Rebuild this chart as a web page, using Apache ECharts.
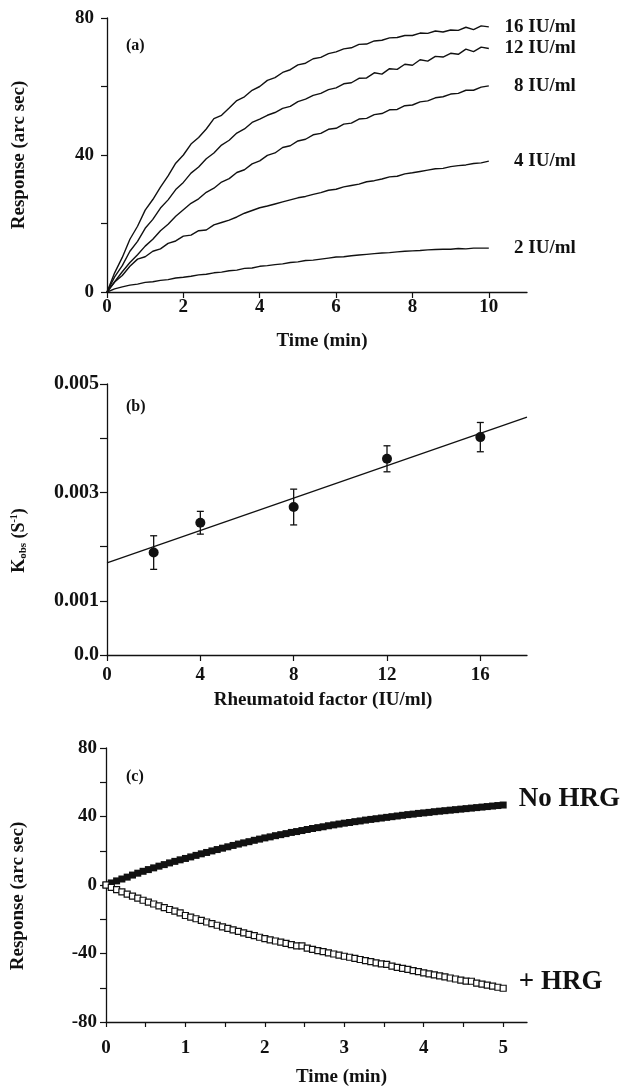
<!DOCTYPE html>
<html><head><meta charset="utf-8">
<script src="https://cdn.jsdelivr.net/npm/echarts@6/dist/echarts.min.js"></script>
<style>html,body{margin:0;padding:0;background:#fff}#c{width:626px;height:1086px}</style>
</head><body><div id="c"></div><script>
// ---------- Panel (a) data ----------
const TIME_A = [0,0.2,0.4,0.6,0.8,1,1.2,1.4,1.6,1.8,2,2.2,2.4,2.6,2.8,3,3.2,3.4,3.6,3.8,4,4.2,4.4,4.6,4.8,5,5.2,5.4,5.6,5.8,6,6.2,6.4,6.6,6.8,7,7.2,7.4,7.6,7.8,8,8.2,8.4,8.6,8.8,9,9.2,9.4,9.6,9.8,10];
const RESP_16 = [0,5.6,10.1,15.4,19.2,23.9,27.0,30.6,33.9,37.6,40.0,43.2,45.1,47.6,50.6,51.6,53.7,55.9,57.0,58.9,60.0,61.8,62.6,64.1,64.9,66.3,66.8,68.1,68.5,69.6,70.1,71.0,71.3,72.3,72.4,73.3,73.5,74.2,74.3,74.9,74.9,75.6,75.5,76.2,75.9,76.5,76.4,77.3,76.6,77.7,77.4];
const RESP_12 = [0,4.4,7.7,11.9,14.8,18.6,21.2,24.5,26.9,29.9,32.0,34.7,36.5,38.9,40.6,42.9,44.3,46.4,47.6,49.5,50.5,51.6,52.4,53.6,54.2,55.6,56.3,57.4,58.0,59.1,59.6,60.8,61.1,62.4,62.5,64.0,63.6,65.2,65.0,66.5,66.2,67.8,67.4,68.8,68.6,69.7,69.4,70.9,70.2,71.5,71.1];
const RESP_8 = [0,3.0,5.9,8.6,10.9,13.4,15.4,17.9,19.8,22.1,24.0,25.9,27.2,29.1,30.3,32.1,33.1,34.9,35.7,37.4,38.3,39.9,40.6,42.2,42.7,44.1,44.6,45.9,46.3,47.5,47.8,49.0,49.3,50.5,50.7,51.8,52.1,53.2,53.3,54.4,54.6,55.5,55.8,56.7,57.0,57.8,58.0,58.9,58.9,59.8,60.2];
const RESP_4 = [0,2.9,4.8,7.5,9.6,10.3,11.9,12.6,14.2,14.9,16.3,16.6,17.9,18.1,19.6,20.3,21.0,21.9,23.0,23.8,24.6,25.1,25.7,26.3,26.9,27.5,27.9,28.5,29.0,29.7,30.0,30.7,31.1,31.5,32.2,32.5,33.0,33.6,33.8,34.5,34.8,35.2,35.6,36.0,36.1,36.6,36.9,37.1,37.5,37.7,38.2];
const RESP_2 = [0,0.9,1.5,2.0,2.3,2.8,3.0,3.4,3.6,4.1,4.3,4.6,5.0,5.2,5.6,5.8,6.2,6.4,6.9,7.0,7.5,7.7,8.0,8.2,8.6,8.8,9.2,9.3,9.6,9.9,10.2,10.3,10.6,10.8,11.0,11.2,11.4,11.5,11.7,11.9,12.0,12.1,12.3,12.4,12.5,12.5,12.7,12.6,12.8,12.8,12.8];
const CURVE_NAMES = ['16 IU/ml','12 IU/ml','8 IU/ml','4 IU/ml','2 IU/ml'];
const A_X_TICKS = [0,2,4,6,8,10];
const A_Y_LABELS = [0,40,80];

// ---------- Panel (b) data ----------
const RF = [2,4,8,12,16];
const KOBS = [0.00189,0.00244,0.00273,0.00362,0.00402];
const KERR = [0.00031,0.00021,0.00033,0.00024,0.00027];
const FIT_X = [0,18];
const FIT_Y = [0.0017,0.00439];
const B_X_TICKS = [0,4,8,12,16];
const B_Y_LABELS = [0,0.001,0.003,0.005];

// ---------- Panel (c) data ----------
const TIME_C_SEC = [0,4,8,12,16,20,24,28,32,36,40,44,48,52,56,60,64,68,72,76,80,84,88,92,96,100,104,108,112,116,120,124,128,132,136,140,144,148,152,156,160,164,168,172,176,180,184,188,192,196,200,204,208,212,216,220,224,228,232,236,240,244,248,252,256,260,264,268,272,276,280,284,288,292,296,300];
const NO_HRG = [0,1.2,2.4,3.5,4.6,5.8,6.9,8.0,9.0,10.0,11.0,11.9,12.9,13.8,14.7,15.5,16.4,17.3,18.2,19.0,19.9,20.7,21.5,22.3,23.1,23.9,24.6,25.3,26.1,26.8,27.5,28.1,28.8,29.4,30.0,30.7,31.2,31.8,32.4,33.0,33.5,34.0,34.6,35.1,35.6,36.1,36.5,37.0,37.4,37.9,38.3,38.7,39.1,39.5,39.9,40.3,40.7,41.1,41.4,41.8,42.1,42.4,42.8,43.1,43.4,43.7,44.0,44.3,44.6,44.9,45.2,45.5,45.8,46.1,46.4,46.7];
const PLUS_HRG = [0,-1.4,-2.7,-4.0,-5.3,-6.5,-7.7,-8.9,-10.0,-11.1,-12.2,-13.2,-14.3,-15.3,-16.3,-17.8,-18.8,-19.7,-20.7,-21.6,-22.5,-23.5,-24.4,-25.3,-26.2,-27.1,-27.9,-28.8,-29.6,-30.5,-31.3,-32.0,-32.7,-33.4,-34.1,-34.8,-35.5,-35.6,-36.9,-37.6,-38.3,-38.9,-39.6,-40.3,-40.9,-41.6,-42.2,-42.9,-43.5,-44.2,-44.8,-45.5,-46.1,-46.3,-47.4,-48.1,-48.7,-49.3,-50.0,-50.6,-51.3,-51.9,-52.5,-53.1,-53.7,-54.3,-54.9,-55.5,-56.1,-56.2,-57.3,-57.9,-58.5,-59.1,-59.7,-60.3];
const C_X_TICKS = [0,0.5,1,1.5,2,2.5,3,3.5,4,4.5,5];
const C_X_LABELS = [0,1,2,3,4,5];
const C_Y_LABELS = [-80,-40,0,40,80];

// ---------- styling ----------
const FONT = "'Liberation Serif','Times New Roman',serif";
const INK = '#111';
const tickFont = {fontFamily: FONT, fontWeight: 'bold', fontSize: 19, color: INK};
const titleFont = {fontFamily: FONT, fontWeight: 'bold', fontSize: 19, color: INK};
const axLine = {show: true, onZero: false, lineStyle: {color: INK, width: 1.3}};
const tickStyle = {lineStyle: {color: INK, width: 1.2}};

const chart = echarts.init(document.getElementById('c'), null, {renderer: 'canvas'});

const curves = [RESP_16, RESP_12, RESP_8, RESP_4, RESP_2];
const series = [];
curves.forEach((arr, k) => {
  series.push({
    type: 'line', xAxisIndex: 0, yAxisIndex: 0, name: CURVE_NAMES[k],
    data: TIME_A.map((t, i) => [t, arr[i]]),
    symbol: 'none', showSymbol: false, smooth: false,
    lineStyle: {color: INK, width: 1.4},
    endLabel: {show: true, formatter: CURVE_NAMES[k], distance: 87, align: 'right', ...tickFont}
  });
});

// Panel (b)
series.push({
  type: 'line', xAxisIndex: 1, yAxisIndex: 1,
  data: FIT_X.map((x, i) => [x, FIT_Y[i]]),
  symbol: 'none', lineStyle: {color: INK, width: 1.3}
});
series.push({
  type: 'custom', xAxisIndex: 1, yAxisIndex: 1,
  data: RF.map((x, i) => [x, KOBS[i], KERR[i]]),
  encode: {x: 0, y: 1},
  renderItem: (params, api) => {
    const x = api.value(0), y = api.value(1), e = api.value(2);
    const top = api.coord([x, y + e]), bot = api.coord([x, y - e]);
    const w = 3.5;
    const st = {stroke: INK, lineWidth: 1.3};
    return {type: 'group', children: [
      {type: 'line', shape: {x1: top[0], y1: top[1], x2: bot[0], y2: bot[1]}, style: st},
      {type: 'line', shape: {x1: top[0] - w, y1: top[1], x2: top[0] + w, y2: top[1]}, style: st},
      {type: 'line', shape: {x1: bot[0] - w, y1: bot[1], x2: bot[0] + w, y2: bot[1]}, style: st}
    ]};
  },
  z: 3
});
series.push({
  type: 'scatter', xAxisIndex: 1, yAxisIndex: 1,
  data: RF.map((x, i) => [x, KOBS[i]]),
  symbol: 'circle', symbolSize: 10, itemStyle: {color: INK, opacity: 1}, z: 4
});

// Panel (c)
const hrgLabel = (txt) => ({show: true, position: 'right', distance: 12, formatter: txt,
  fontFamily: FONT, fontWeight: 'bold', fontSize: 27, color: INK, opacity: 1, offset: [0, -6]});
const noData = TIME_C_SEC.map((s, i) => [s / 60, NO_HRG[i]]);
noData[noData.length - 1] = {value: noData[noData.length - 1], label: hrgLabel('No HRG')};
const plusData = TIME_C_SEC.map((s, i) => [s / 60, PLUS_HRG[i]]);
plusData[plusData.length - 1] = {value: plusData[plusData.length - 1], label: hrgLabel('+ HRG')};
series.push({
  type: 'scatter', xAxisIndex: 2, yAxisIndex: 2, data: noData,
  symbol: 'rect', symbolSize: 7, itemStyle: {color: INK, opacity: 1}, z: 3
});
series.push({
  type: 'scatter', xAxisIndex: 2, yAxisIndex: 2, data: plusData,
  symbol: 'rect', symbolSize: 6, itemStyle: {color: '#fff', borderColor: INK, borderWidth: 1.2, opacity: 1}, z: 4
});

const option = {
  animation: false,
  backgroundColor: '#fff',
  grid: [
    {left: 107, top: 18, width: 420, height: 274, outerBoundsMode: 'none'},
    {left: 107, top: 384, width: 420, height: 271, outerBoundsMode: 'none'},
    {left: 106, top: 748, width: 421, height: 274, outerBoundsMode: 'none'}
  ],
  xAxis: [
    {gridIndex: 0, type: 'value', min: 0, max: 11, axisLine: axLine, splitLine: {show: false},
     axisTick: {customValues: A_X_TICKS, length: 6, ...tickStyle},
     axisLabel: {customValues: A_X_TICKS, margin: 6, ...tickFont},
     name: 'Time (min)', nameLocation: 'middle', nameGap: 40, nameTextStyle: {...titleFont, padding: [0, 0, 0, 10]}},
    {gridIndex: 1, type: 'value', min: 0, max: 18, axisLine: axLine, splitLine: {show: false},
     axisTick: {customValues: B_X_TICKS, length: 6, ...tickStyle},
     axisLabel: {customValues: B_X_TICKS, margin: 11, ...tickFont},
     name: 'Rheumatoid factor (IU/ml)', nameLocation: 'middle', nameGap: 36, nameTextStyle: {...titleFont, padding: [0, 0, 0, 12]}},
    {gridIndex: 2, type: 'value', min: 0, max: 5.3, axisLine: axLine, splitLine: {show: false},
     axisTick: {customValues: C_X_TICKS, length: 5, ...tickStyle},
     axisLabel: {customValues: C_X_LABELS, margin: 17, ...tickFont},
     name: 'Time (min)', nameLocation: 'middle', nameGap: 46, nameTextStyle: {...titleFont, padding: [0, 0, 0, 50]}}
  ],
  yAxis: [
    {gridIndex: 0, type: 'value', min: 0, max: 80, interval: 20, axisLine: axLine, splitLine: {show: false},
     axisTick: {show: true, length: 6, ...tickStyle},
     axisLabel: {customValues: A_Y_LABELS, margin: 13, ...tickFont},
     name: 'Response (arc sec)', nameLocation: 'middle', nameRotate: 90, nameGap: 78, nameTextStyle: {...titleFont}},
    {gridIndex: 1, type: 'value', min: 0, max: 0.005, interval: 0.001, axisLine: axLine, splitLine: {show: false},
     axisTick: {show: true, length: 7, ...tickStyle},
     axisLabel: {customValues: B_Y_LABELS, margin: 8, ...tickFont, fontSize: 20,
       formatter: v => (Math.abs(v) < 1e-9 ? '0.0' : v.toFixed(3))},
     name: '{k|K}{s|obs}{k| (S}{p|-1}{k|)}', nameLocation: 'middle', nameRotate: 90, nameGap: 78,
     nameTextStyle: {...titleFont, padding: [0, 42, 0, 0], rich: {
       k: {fontFamily: FONT, fontWeight: 'bold', fontSize: 18, color: INK, lineHeight: 20, verticalAlign: 'middle'},
       s: {fontFamily: FONT, fontWeight: 'bold', fontSize: 11, color: INK, lineHeight: 11, verticalAlign: 'bottom'},
       p: {fontFamily: FONT, fontWeight: 'bold', fontSize: 10, color: INK, lineHeight: 10, verticalAlign: 'top'}
     }}},
    {gridIndex: 2, type: 'value', min: -80, max: 80, interval: 20, axisLine: axLine, splitLine: {show: false},
     axisTick: {show: true, length: 6, ...tickStyle},
     axisLabel: {customValues: C_Y_LABELS, margin: 9, ...tickFont},
     name: 'Response (arc sec)', nameLocation: 'middle', nameRotate: 90, nameGap: 78, nameTextStyle: {...titleFont, padding: [0, 22, 0, 0]}}
  ],
  graphic: [
    {type: 'text', left: 126, top: 38, style: {text: '(a)', font: "bold 16px 'Liberation Serif'", fill: INK}},
    {type: 'text', left: 126, top: 399, style: {text: '(b)', font: "bold 16px 'Liberation Serif'", fill: INK}},
    {type: 'text', left: 126, top: 769, style: {text: '(c)', font: "bold 16px 'Liberation Serif'", fill: INK}}
  ],
  series: series
};
chart.setOption(option);
</script></body></html>
